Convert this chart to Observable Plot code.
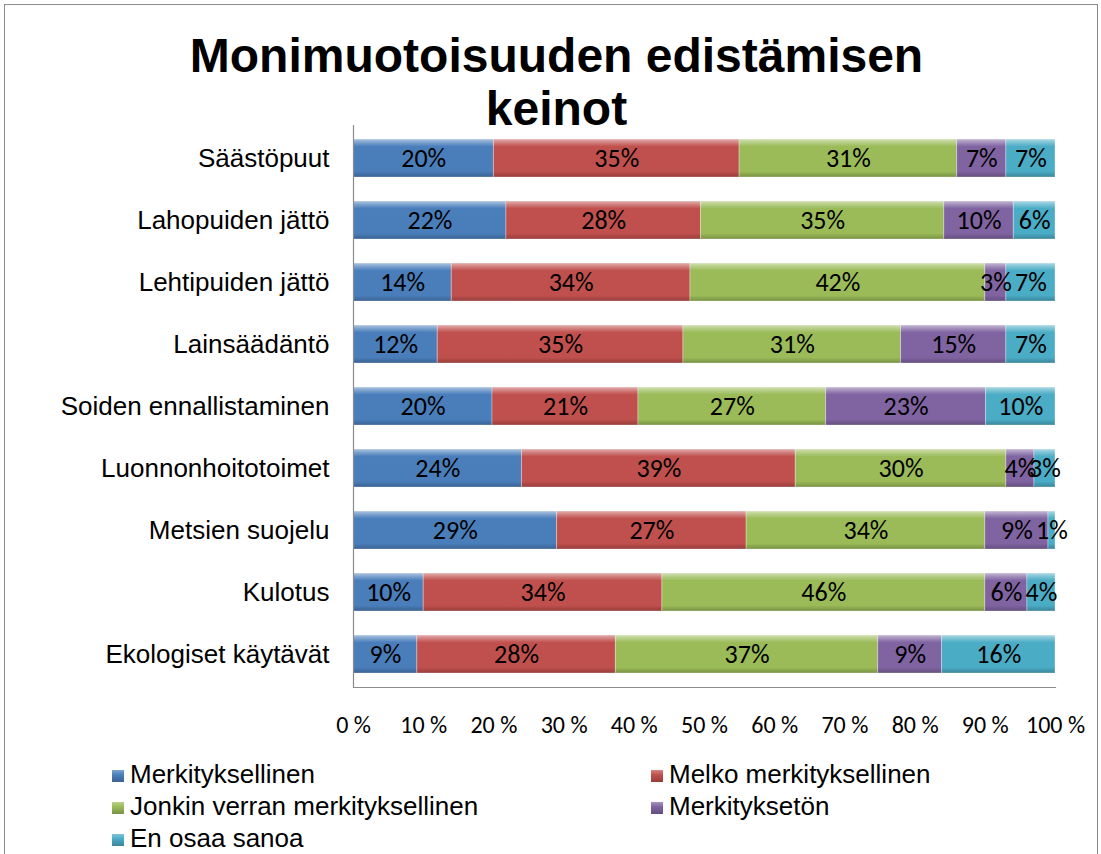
<!DOCTYPE html>
<html><head><meta charset="utf-8">
<script src="https://cdn.jsdelivr.net/npm/d3@7"></script>
<script src="https://cdn.jsdelivr.net/npm/@observablehq/plot@0.6"></script>
<style>
body{margin:0;background:#fff;font-family:"Liberation Sans",Arial,sans-serif;width:1101px;height:854px;overflow:hidden;position:relative;}
#frame{position:absolute;left:4px;top:4px;width:1092px;height:900px;border:1px solid #8c8c8c;border-bottom:none;}
#title{position:absolute;left:10px;width:1093px;top:29px;text-align:center;font-weight:bold;font-size:48px;line-height:53px;color:#000;}
#chart{position:absolute;left:0;top:0;}
.leg{position:absolute;font-size:26px;line-height:30px;color:#000;white-space:nowrap;}
.leg span.sw{display:inline-block;width:12px;height:12px;margin-right:6px;vertical-align:1px;}
</style></head>
<body>
<div id="frame"></div>
<div id="chart"></div>
<div id="title">Monimuotoisuuden edistämisen<br>keinot</div>
<div id="legend"></div>
<script>
const categories = ["Säästöpuut","Lahopuiden jättö","Lehtipuiden jättö","Lainsäädäntö","Soiden ennallistaminen","Luonnonhoitotoimet","Metsien suojelu","Kulotus","Ekologiset käytävät"];
const seriesNames = ["Merkityksellinen","Melko merkityksellinen","Jonkin verran merkityksellinen","Merkityksetön","En osaa sanoa"];
const merkityksellinen = [20,22,14,12,20,24,29,10,9];
const melkoMerkityksellinen = [35,28,34,35,21,39,27,34,28];
const jonkinVerran = [31,35,42,31,27,30,34,46,37];
const merkitykseton = [7,10,3,15,23,4,9,6,9];
const enOsaaSanoa = [7,6,7,7,10,3,1,4,16];
const seriesColors = ["#4a7ebb","#c0504d","#9bbb59","#8064a2","#4bacc6"];
const xTicks = [0,0.1,0.2,0.3,0.4,0.5,0.6,0.7,0.8,0.9,1];

const seriesValues = [merkityksellinen, melkoMerkityksellinen, jonkinVerran, merkitykseton, enOsaaSanoa];
const data = [];
categories.forEach((c,i)=>{
  seriesNames.forEach((s,j)=>{
    data.push({cat:c, series:s, value:seriesValues[j][i]});
  });
});

const gradIds = seriesNames.map((s,i)=>"grad"+i);
const stackOpts = {x:"value", y:"cat", z:"series", offset:"normalize"};
const narrow = "Carlito,'Liberation Sans Narrow','Roboto Condensed','Liberation Sans',sans-serif";

const chart = Plot.plot({
  width:1101, height:750,
  marginTop:125, marginBottom:63, marginLeft:353, marginRight:46,
  style:{fontFamily:"'Liberation Sans',Arial,sans-serif", background:"transparent", color:"#000"},
  x:{domain:[0,1], label:null},
  y:{domain:categories, paddingInner:0.39, paddingOuter:0.195, label:null},
  color:{domain:seriesNames, range:gradIds.map(id=>`url(#${id})`)},
  marks:[
    Plot.barX(data, Plot.stackX({...stackOpts, fill:"series", inset:0, stroke:"#ffffff", strokeOpacity:0.3, strokeWidth:1})),
    Plot.text(data, Plot.stackX({...stackOpts, text:d=>d.value+"%", fill:"#000", fontSize:26, fontFamily:narrow})),
    Plot.ruleX([0], {stroke:"#8c8c8c", strokeWidth:1.2}),
    Plot.frame({anchor:"bottom", stroke:"#8c8c8c", strokeWidth:1.2}),
    Plot.axisX({ticks:xTicks, tickSize:0, tickPadding:28, fontSize:24, tickFormat:d=>Math.round(d*100)+" %", label:null, fontFamily:narrow}),
    Plot.axisY({tickSize:0, tickPadding:24, fontSize:26, label:null})
  ]
});

// bevel-like vertical gradients
const svgNS = "http://www.w3.org/2000/svg";
const defs = document.createElementNS(svgNS,"defs");
seriesColors.forEach((col,i)=>{
  const c = d3.color(col);
  const g = document.createElementNS(svgNS,"linearGradient");
  g.setAttribute("id", gradIds[i]);
  g.setAttribute("x1","0");g.setAttribute("y1","0");g.setAttribute("x2","0");g.setAttribute("y2","1");
  const stops = [[0, d3.interpolateRgb(col,"#fff")(0.55)],[0.1, d3.interpolateRgb(col,"#fff")(0.25)],[0.2,col],[0.85,col],[1,c.darker(0.7).formatHex()]];
  stops.forEach(([o,cc])=>{
    const st=document.createElementNS(svgNS,"stop");
    st.setAttribute("offset",o);st.setAttribute("stop-color",cc);g.appendChild(st);
  });
  defs.appendChild(g);
});
chart.insertBefore(defs, chart.firstChild);
document.getElementById("chart").appendChild(chart);

// legend
const legendPos = [[112,759],[651,759],[112,791],[651,791],[112,823]];
const legend = document.getElementById("legend");
seriesNames.forEach((s,i)=>{
  const d = document.createElement("div");
  d.className="leg";
  d.style.left = legendPos[i][0]+"px";
  d.style.top = legendPos[i][1]+"px";
  const sw = document.createElement("span");
  sw.className="sw";
  sw.style.background = `linear-gradient(${d3.interpolateRgb(seriesColors[i],"#fff")(0.3)}, ${seriesColors[i]} 40%, ${d3.color(seriesColors[i]).darker(0.7).formatHex()})`;
  d.appendChild(sw);
  d.appendChild(document.createTextNode(s));
  legend.appendChild(d);
});
</script>
</body></html>
